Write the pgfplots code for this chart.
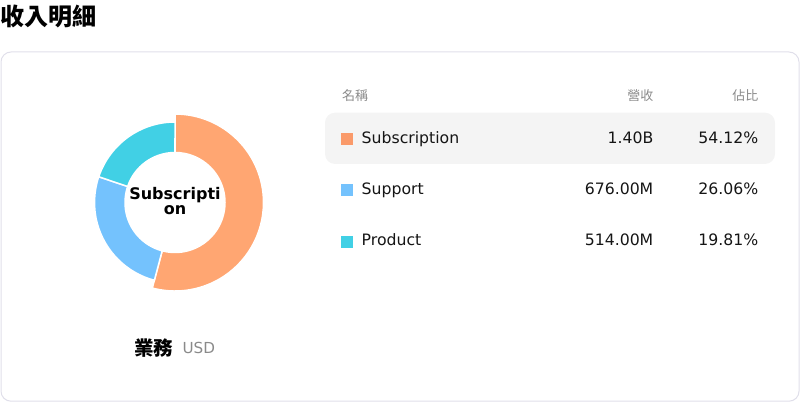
\documentclass[border=0pt]{standalone}
\usepackage{fontspec}
\setmainfont{DejaVu Sans}
\newfontfamily\cjk{Noto Sans CJK TC}
\usepackage{pgfplots}
\usepackage{pgfplotstable}
\pgfplotsset{compat=1.18}
\definecolor{cOrange}{HTML}{FFA672}
\definecolor{cOrangeL}{HTML}{FA9A6A}
\definecolor{cBlue}{HTML}{74C2FD}
\definecolor{cCyan}{HTML}{41D0E5}
\definecolor{cardline}{HTML}{E0DFEA}
\definecolor{rowbg}{HTML}{F4F4F4}
\definecolor{hdrgray}{HTML}{8A8A8A}
\definecolor{txt}{HTML}{151515}

\pgfplotstableread{
name value
Subscription 1404
Support 676
Product 514
}\revtable

\pgfplotstablegetelem{0}{value}\of\revtable \let\va\pgfplotsretval
\pgfplotstablegetelem{1}{value}\of\revtable \let\vb\pgfplotsretval
\pgfplotstablegetelem{2}{value}\of\revtable \let\vc\pgfplotsretval
\pgfmathsetmacro\total{\va+\vb+\vc}
\pgfmathsetmacro\aO{90}
\pgfmathsetmacro\aA{90-\va/\total*360}
\pgfmathsetmacro\aB{\aA-\vb/\total*360}
\pgfmathsetmacro\aC{\aB-\vc/\total*360}

\begin{document}
\begin{tikzpicture}[x=1pt,y=1pt]
\useasboundingbox (0,0) rectangle (800,402);
% title
\node[anchor=west,inner sep=0,font=\cjk\bfseries\fontsize{24}{28}\selectfont,text=black] at (0,386) {收入明細};
% card
\draw[cardline,line width=1pt,rounded corners=10pt] (1,0.8) rectangle (799,350);
% donut
\begin{axis}[
  at={(175pt,199.5pt)}, anchor=center,
  x=80pt, y=80pt,
  xmin=-1.2, xmax=1.2, ymin=-1.2, ymax=1.2,
  hide axis, clip=false, scale only axis]
\addplot[draw=none] coordinates {(0,0)};
\fill[cOrange,draw=white,line width=1.5pt]
  (axis cs:{1.106*cos(\aO)},{1.106*sin(\aO)}) arc[start angle=\aO,end angle=\aA,radius=88.5pt]
  -- (axis cs:{0.625*cos(\aA)},{0.625*sin(\aA)}) arc[start angle=\aA,end angle=\aO,radius=50pt] -- cycle;
\fill[cBlue,draw=white,line width=1.5pt]
  (axis cs:{1.006*cos(\aA)},{1.006*sin(\aA)}) arc[start angle=\aA,end angle=\aB,radius=80.5pt]
  -- (axis cs:{0.625*cos(\aB)},{0.625*sin(\aB)}) arc[start angle=\aB,end angle=\aA,radius=50pt] -- cycle;
\fill[cCyan,draw=white,line width=1.5pt]
  (axis cs:{1.006*cos(\aB)},{1.006*sin(\aB)}) arc[start angle=\aB,end angle=\aC,radius=80.5pt]
  -- (axis cs:{0.625*cos(\aC)},{0.625*sin(\aC)}) arc[start angle=\aC,end angle=\aB,radius=50pt] -- cycle;
\end{axis}
% center label
\node[anchor=base,inner sep=0,font=\bfseries\fontsize{16}{19}\selectfont,text=black] at (175,202) {Subscripti};
\node[anchor=base,inner sep=0,font=\bfseries\fontsize{16}{19}\selectfont,text=black] at (175,187) {on};
% bottom label
\node[anchor=west,inner sep=0,font=\cjk\bfseries\fontsize{19.5}{23}\selectfont,text=black] at (134,53.7) {業務};
\node[anchor=base west,inner sep=0,font=\fontsize{15.2}{18}\selectfont,text=hdrgray] at (182.3,49) {USD};
% table header
\node[anchor=west,inner sep=0,font=\cjk\fontsize{13}{16}\selectfont,text=hdrgray] at (342,306.3) {名稱};
\node[anchor=east,inner sep=0,font=\cjk\fontsize{13}{16}\selectfont,text=hdrgray] at (653.5,306.3) {營收};
\node[anchor=east,inner sep=0,font=\cjk\fontsize{13}{16}\selectfont,text=hdrgray] at (758.5,306.3) {佔比};
% highlighted row
\fill[rowbg,rounded corners=10pt] (325,238) rectangle (775,289.3);
% rows
\fill[cOrangeL] (341,256.5) rectangle (353,268.5);
\fill[cBlue] (341,205.5) rectangle (353,217.5);
\fill[cCyan] (341,154.5) rectangle (353,166.5);
\begin{scope}[every node/.style={inner sep=0,font=\fontsize{15.7}{19}\selectfont,text=txt}]
\node[anchor=base west] at (361.5,258) {Subscription};
\node[anchor=base east] at (653.5,258) {1.40B};
\node[anchor=base east] at (758.5,258) {54.12\%};
\node[anchor=base west] at (361.5,207) {Support};
\node[anchor=base east] at (653.5,207) {676.00M};
\node[anchor=base east] at (758.5,207) {26.06\%};
\node[anchor=base west] at (361.5,156.3) {Product};
\node[anchor=base east] at (653.5,156.3) {514.00M};
\node[anchor=base east] at (758.5,156.3) {19.81\%};
\end{scope}
\end{tikzpicture}
\end{document}
